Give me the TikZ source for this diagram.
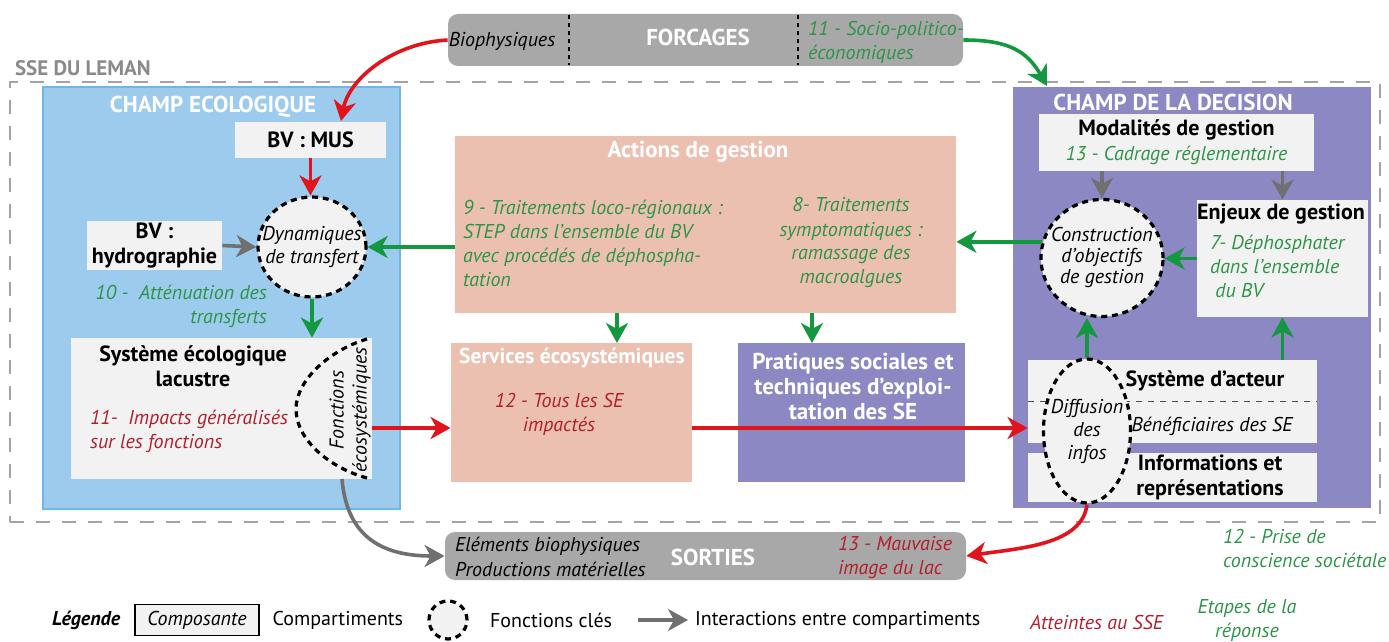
\documentclass[tikz,border=0pt]{standalone}
\usepackage{fontspec}
\setmainfont{PT Sans}
\usetikzlibrary{positioning,shapes.geometric,arrows.meta,calc}
\definecolor{EcoBlue}{HTML}{9CCBEE}
\definecolor{EcoEdge}{HTML}{6DB8E8}
\definecolor{DecPurple}{HTML}{8B88C3}
\definecolor{Salmon}{HTML}{ECC0B1}
\definecolor{Light}{HTML}{F2F2F2}
\definecolor{BoxGray}{HTML}{A8A8A8}
\definecolor{FrameGray}{HTML}{A3A3A3}
\definecolor{SseGray}{HTML}{8A8A8A}
\definecolor{GreenTxt}{HTML}{2E9447}
\definecolor{GreenArr}{HTML}{13973F}
\definecolor{RedArr}{HTML}{E2141B}
\definecolor{RedTxt}{HTML}{B21F2D}
\definecolor{GrayArr}{HTML}{707070}

\begin{document}
\begin{tikzpicture}[x=0.5pt,y=-0.5pt,
  font=\fontsize{10}{12}\selectfont,
  comp/.style={rectangle, fill=Light, inner sep=0pt, align=center},
  keyfn/.style={ellipse, draw=black, line width=1.6pt, dash pattern=on 3pt off 2.4pt, fill=Light, inner sep=0pt},
  fntext/.style={align=center, font=\fontsize{10}{11.3}\selectfont\itshape},
  head/.style={font=\fontsize{11}{12.5}\selectfont\bfseries, align=center},
  title/.style={font=\fontsize{11.5}{13}\selectfont\bfseries, text=white},
  greentxt/.style={text=GreenTxt, font=\fontsize{10}{12}\selectfont\itshape},
  redtxt/.style={text=RedTxt, font=\fontsize{10}{12}\selectfont\itshape},
  arr/.style={line width=1.8pt, -{Stealth[length=10pt,width=11pt,inset=3pt]}},
  redarr/.style={arr, draw=RedArr},
  greenarr/.style={arr, draw=GreenArr},
  grayarr/.style={arr, draw=GrayArr},
  divider/.style={draw=black, line width=0.8pt, dash pattern=on 2pt off 2pt}]
\useasboundingbox (0,0) rectangle (1389,642);

% SSE frame
\node[draw=FrameGray, line width=1pt, dash pattern=on 7pt off 6pt, minimum width=685pt, minimum height=220pt] (sse) at (695,302) {};
\node[anchor=west, text=SseGray, font=\fontsize{10.5}{12}\selectfont\bfseries] (sselabel) at (8,68) {SSE DU LEMAN};

% Forcages
\node[rectangle, rounded corners=5pt, fill=BoxGray, minimum width=257.5pt, minimum height=26pt] (forcages) at (705.5,40) {};
\node[font=\fontsize{10}{12}\selectfont\itshape] (bioph) at (502,41) {Biophysiques};
\node[title] (forctitle) at (698,37) {FORCAGES};
\node[greentxt, anchor=west, align=left] (socio) at (801,42) {11 - Socio-politico-\\économiques};
\draw[divider] (569,15) -- (569,65);
\draw[divider] (798,15) -- (798,65);

% Champ ecologique
\node[rectangle, fill=EcoBlue, draw=EcoEdge, line width=0.8pt, minimum width=178.5pt, minimum height=211pt] (champeco) at (221.5,298) {};
\node[title] (ecotitle) at (213,107) {CHAMP ECOLOGIQUE};
\node[comp, head, minimum width=75.5pt, minimum height=18pt] (bvmus) at (310.5,140) {BV : MUS};
\node[comp, head, minimum width=67.5pt, minimum height=24.5pt] (hydro) at (154.5,245.5) {BV :\\hydrographie};
\node[keyfn, minimum width=54pt, minimum height=50pt] (dyn) at (312,247) {};
\node[fntext] (dyntxt) at (dyn) {Dynamiques\\de transfert};
\node[greentxt, anchor=east, align=right] (attn) at (274,306) {10 -\ \ Atténuation des\\transferts};
\node[comp, minimum width=150.5pt, minimum height=70.5pt] (systeco) at (221.5,408.5) {};
\node[head] (systitle) at (193,366) {Système écologique\\lacustre};
\node[redtxt, anchor=west, align=left] (impacts) at (83,431) {11-\ \ Impacts généralisés\\sur les fonctions};
\draw[line width=1.6pt, dash pattern=on 3pt off 2.4pt] (367,339) .. controls (330,350) and (296,380) .. (296,409) .. controls (296,440) and (330,468) .. (367,478);
\node[rotate=90, align=center, font=\fontsize{10}{11.5}\selectfont\itshape] (fonceco) at (350,410) {Fonctions\\écosystémiques};

% Actions, services, pratiques
\node[rectangle, fill=Salmon, minimum width=250.5pt, minimum height=88.5pt] (actions) at (705.5,224.5) {};
\node[title] (acttitle) at (698,152) {Actions de gestion};
\node[greentxt, anchor=west, align=left] (trait9) at (456,243) {9 - Traitements loco-régionaux :\\STEP dans l’ensemble du BV\\avec procédés de déphospha-\\tation};
\node[greentxt, align=center] (trait8) at (851,243) {8- Traitements\\symptomatiques :\\ramassage des\\macroalgues};
\node[rectangle, fill=Salmon, minimum width=120.5pt, minimum height=69.5pt] (services) at (571.5,412.5) {};
\node[title, font=\fontsize{10.8}{13}\selectfont\bfseries] (svctitle) at (572,358) {Services écosystémiques};
\node[redtxt, align=center] (tousse) at (559,414) {12 - Tous les SE\\impactés};
\node[rectangle, fill=DecPurple, minimum width=113.5pt, minimum height=69.5pt] (pratiques) at (851.5,412.5) {};
\node[title, align=center, font=\fontsize{11.5}{12.5}\selectfont\bfseries] (pratitle) at (853,386) {Pratiques sociales et\\techniques d’exploi-\\tation des SE};

% Champ de la decision
\node[rectangle, fill=DecPurple, minimum width=179pt, minimum height=210.5pt] (champdec) at (1192,297.5) {};
\node[title] (dectitle) at (1173,102) {CHAMP DE LA DECISION};
\node[comp, minimum width=137.5pt, minimum height=28.5pt, font=\fontsize{11}{12.5}\selectfont] (modal) at (1176.5,142.5) {\textbf{Modalités de gestion}\\\textcolor{GreenTxt}{\itshape\fontsize{10}{12.5}\selectfont 13 - Cadrage réglementaire}};
\node[keyfn, minimum width=61pt, minimum height=58.5pt] (constr) at (1102,258) {};
\node[fntext, font=\fontsize{10}{10.5}\selectfont\itshape] (constrtxt) at (constr) {Construction\\d’objectifs\\de gestion};
\node[comp, minimum width=85.5pt, minimum height=58.5pt] (enjeux) at (1282.5,258.5) {};
\node[head] (enjtitle) at (1281,214) {Enjeux de gestion};
\node[greentxt, anchor=west, align=left] (dephos) at (1203,266) {7- Déphosphater\\dans l’ensemble\\\ du BV};
\node[comp, minimum width=144.5pt, minimum height=41.5pt] (acteur) at (1172.5,401.5) {};
\draw[thin, dashed, black!70] (acteur.west) -- (acteur.east);
\node[head] (actitle) at (1205,381) {Système d’acteur};
\node[font=\fontsize{10}{12}\selectfont\itshape] (benef) at (1212,426) {Bénéficiaires des SE};
\node[comp, minimum width=144.5pt, minimum height=24.5pt] (infos) at (1172.5,477.5) {};
\node[head] (infotitle) at (1210,477) {Informations et\\représentations};
\node[keyfn, minimum width=43.5pt, minimum height=72pt] (diffusion) at (1087,431) {};
\node[fntext, font=\fontsize{10}{11.5}\selectfont\itshape] (diffutxt) at (diffusion) {Diffusion\\des\\infos};
\node[greentxt, anchor=west, align=left] (prise) at (1216,548) {12 - Prise de\\conscience sociétale};

% Sorties
\node[rectangle, rounded corners=5pt, fill=BoxGray, minimum width=260.5pt, minimum height=24pt] (sorties) at (705.5,556) {};
\node[anchor=west, align=left, font=\fontsize{10}{12.5}\selectfont\itshape] (elements) at (448,557) {Eléments biophysiques\\Productions matérielles};
\node[title] (sortitle) at (713,557) {SORTIES};
\node[redtxt, anchor=west, align=left] (mauvaise) at (831,557) {13 - Mauvaise\\image du lac};

% Connectors
\coordinate (musin) at (341,121);
\coordinate (decin) at (1047,86);
\coordinate (flow) at (0,428);
\coordinate (svcin) at (617,343);
\coordinate (prain) at (812,343);
\coordinate (ecoout) at (342,479);
\draw[redarr] (forcages.west) .. controls +(-55,3) and +(8,-42) .. (musin);
\draw[greenarr] (forcages.east) .. controls +(45,0) and +(-20,-35) .. (decin);
\draw[redarr] (bvmus.south) -- (bvmus.south |- dyn.north);
\draw[grayarr] (hydro.east) -- (dyn.west);
\draw[greenarr] (actions.west |- dyn.east) -- (dyn.east);
\draw[greenarr] (dyn.south) -- (dyn.south |- systeco.north);
\draw[redarr] (systeco.east |- flow) -- (services.west |- flow);
\draw[greenarr] (actions.south -| svcin) -- (svcin);
\draw[greenarr] (actions.south -| prain) -- (prain);
\draw[redarr] (services.east |- flow) -- (acteur.west |- flow);
\draw[grayarr] (modal.south -| constr.north) -- (constr.north);
\draw[grayarr] (modal.south -| enjeux.north) -- (enjeux.north);
\draw[greenarr] (enjeux.west) -- (enjeux.west -| constr.east);
\draw[greenarr] (constr.165) -- (constr.165 -| actions.east);
\draw[greenarr] (diffusion.north) -- (diffusion.north |- constr.south);
\draw[greenarr] (acteur.north -| enjeux.south) -- (enjeux.south);
\draw[redarr] (diffusion.south) .. controls +(-5,40) and +(55,-8) .. (sorties.east);
\draw[grayarr] (ecoout) .. controls +(5,60) and +(-60,0) .. (sorties.west);

% Legend
\node[anchor=west, font=\fontsize{10}{12}\selectfont\bfseries\itshape] (legende) at (45,620) {Légende};
\node[draw=black, line width=0.6pt, fill=Light, minimum width=62pt, minimum height=14pt, font=\fontsize{10}{12}\selectfont\itshape] (legcomp) at (197,620) {Composante};
\node[right=3pt of legcomp] (legcomptxt) {Compartiments};
\node[keyfn, minimum width=19pt, minimum height=19pt] (legfn) at (448,620) {};
\node[anchor=west] (legfntxt) at (483,620) {Fonctions clés};
\node[anchor=west] (leginter) at (688,620) {Interactions entre compartiments};
\coordinate (legarr) at (638,620);
\draw[grayarr] (legarr) -- (leginter.west);
\node[redtxt, anchor=west] (legred) at (1023,622) {Atteintes au SSE};
\node[greentxt, align=center] (leggreen) at (1247,620) {Etapes de la\\réponse};
\end{tikzpicture}
\end{document}
